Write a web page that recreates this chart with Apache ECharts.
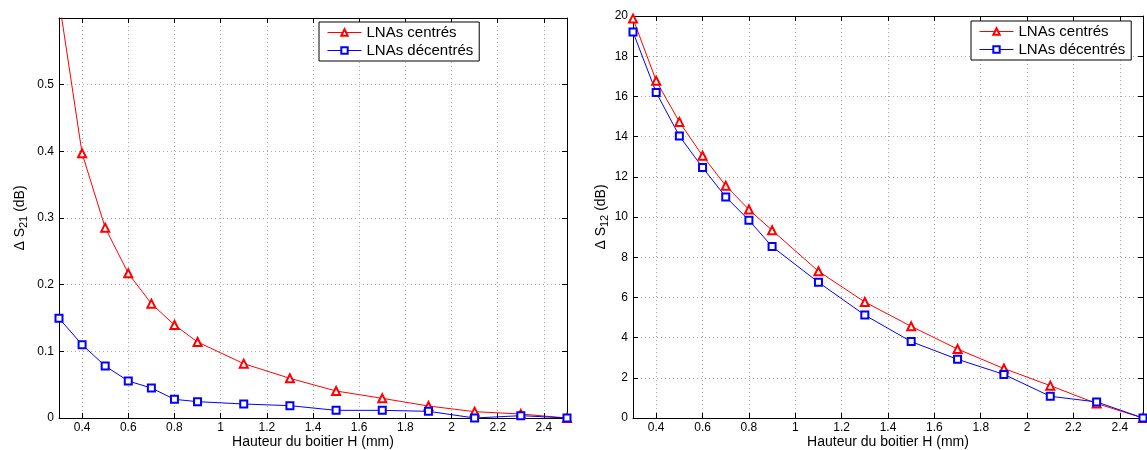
<!DOCTYPE html>
<html><head><meta charset="utf-8">
<script src="https://cdn.jsdelivr.net/npm/echarts@6/dist/echarts.min.js"></script>
<style>html,body{margin:0;padding:0;background:#fff}#c{width:1147px;height:450px}</style>
</head><body><div id="c"></div>
<script>
const H = [0.3,0.4,0.5,0.6,0.7,0.8,0.9,1.1,1.3,1.5,1.7,1.9,2.1,2.3,2.5];
const s21Centres   = [0.627,0.397,0.2855,0.217,0.1715,0.1395,0.114,0.0815,0.0595,0.0405,0.0295,0.018,0.0095,0.006,0];
const s21Decentres = [0.1495,0.110,0.078,0.0555,0.045,0.028,0.0245,0.021,0.0185,0.0115,0.0115,0.010,0,0.0035,0];
const s12Centres   = [19.87,16.78,14.73,13.05,11.56,10.37,9.34,7.30,5.77,4.56,3.43,2.46,1.61,0.72,0];
const s12Decentres = [19.2,16.2,14.03,12.46,11.0,9.84,8.53,6.75,5.12,3.80,2.92,2.17,1.08,0.80,0];
const xTicks = [0.4,0.6,0.8,1,1.2,1.4,1.6,1.8,2,2.2,2.4];
const names = ['LNAs centrés','LNAs décentrés'];
const xTitle = 'Hauteur du boitier H (mm)';

const font = 'Liberation Sans, Arial, sans-serif';
const zip = (a,b)=>a.map((v,i)=>[v,b[i]]);

function xAx(gi, pos){
  return {
    type:'value', gridIndex:gi, min:0.3, max:2.5, position:pos,
    name: pos==='bottom'? xTitle : '', nameLocation:'middle', nameGap:17, nameMoveOverlap:false,
    nameTextStyle:{fontFamily:font,fontSize:14,color:'#000'},
    axisLine:{show:true,onZero:false,lineStyle:{color:'#000',width:1}},
    axisTick:{show:true,inside:true,length:5,customValues:xTicks,lineStyle:{color:'#000'}},
    axisLabel:{show:pos==='bottom',customValues:xTicks,fontFamily:font,fontSize:12,color:'#000',margin:4},
    splitLine:{show:pos==='bottom',lineStyle:{color:'#aaa',type:[1,3],width:1}}
  };
}
function yAx(gi, pos, max, interval, nm){
  return {
    type:'value', gridIndex:gi, min:0, max:max, interval:interval, position:pos,
    name: pos==='left'? nm : '', nameLocation:'middle', nameGap:gi===0?30:23, nameMoveOverlap:false,
    nameTextStyle:{fontFamily:font,fontSize:14,color:'#000',
      rich:{sub:{fontFamily:font,fontSize:11,color:'#000',verticalAlign:'bottom',padding:[7,0,0,0]}}},
    axisLine:{show:true,onZero:false,lineStyle:{color:'#000',width:1}},
    axisTick:{show:true,inside:true,length:5,lineStyle:{color:'#000'}},
    axisLabel:{show:pos==='left',fontFamily:font,fontSize:12,color:'#000',margin:5,
      formatter:v=> (gi===0 && v>0.55) ? '' : String(+v.toFixed(2))},
    splitLine:{show:pos==='left',lineStyle:{color:'#aaa',type:[1,3],width:1}}
  };
}
function ser(name, data, xi, yi, color, sym, size){
  return {type:'line', name, data, xAxisIndex:xi, yAxisIndex:yi, clip:true,
    symbol:sym, symbolSize:size, showAllSymbol:true,
    lineStyle:{color, width:1}, itemStyle:{color, borderWidth:1}, animation:false};
}
const legendCommon = {data:names, orient:'vertical', itemGap:3, itemWidth:34, itemHeight:8,
     borderColor:'#000', borderWidth:1, padding:[3,6,3,8], backgroundColor:'#fff',
     lineStyle:{width:1}, itemStyle:{borderWidth:1},
     textStyle:{fontFamily:font,fontSize:15,color:'#000'}};
const chart = echarts.init(document.getElementById('c'), null, {renderer:'canvas'});
chart.setOption({
  animation:false,
  backgroundColor:'#fff',
  grid:[
    {left:59,right:580,top:18,bottom:32,outerBoundsMode:'none',containLabel:false},
    {left:633,right:4,top:16,bottom:32,outerBoundsMode:'none',containLabel:false}
  ],
  xAxis:[xAx(0,'bottom'),xAx(0,'top'),xAx(1,'bottom'),xAx(1,'top')],
  yAxis:[yAx(0,'left',0.6,0.1,'Δ S{sub|21} (dB)'),yAx(0,'right',0.6,0.1,''),
         yAx(1,'left',20,2,'Δ S{sub|12} (dB)'),yAx(1,'right',20,2,'')],
  legend:[
    Object.assign({left:319, top:22}, legendCommon),
    Object.assign({left:971, top:21}, legendCommon)
  ],
  series:[
    ser(names[0], zip(H,s21Centres), 0, 0, '#ff0000', 'emptyTriangle', 8),
    ser(names[1], zip(H,s21Decentres), 0, 0, '#0000ff', 'emptyRect', 7),
    ser(names[0], zip(H,s12Centres), 2, 2, '#ff0000', 'emptyTriangle', 8),
    ser(names[1], zip(H,s12Decentres), 2, 2, '#0000ff', 'emptyRect', 7)
  ]
});
</script></body></html>
